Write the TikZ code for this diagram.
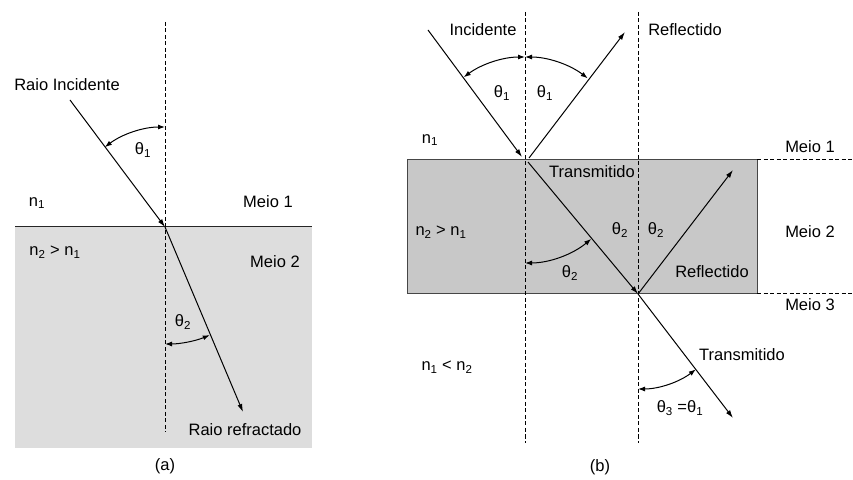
\documentclass[tikz,border=0pt]{standalone}
\usepackage{fontspec}
\setmainfont{Liberation Sans}
\usetikzlibrary{arrows.meta}
\begin{document}
\begin{tikzpicture}[x=1pt,y=1pt,
  ray/.style={line width=1pt,-{Latex[length=8pt,width=5pt]}},
  normal/.style={line width=1pt,dash pattern=on 4pt off 2.5pt},
  angarc/.style={line width=1pt,{Latex[length=7pt,width=5pt]}-{Latex[length=7pt,width=5pt]}},
  lbl/.style={font=\fontsize{16.5}{19}\selectfont,inner sep=0pt}]
\useasboundingbox (0,0) rectangle (853,479);
\definecolor{graya}{RGB}{221,221,221}
\definecolor{grayb}{RGB}{200,200,200}
\definecolor{edgeb}{RGB}{70,70,70}
% ---------- panel (a)
\coordinate (Oa) at (165,252);
\fill[graya] (15,31) rectangle (312,252);
\draw[line width=1pt,black!85] (15,252) -- (312,252);
\coordinate (Na1) at (165,457);
\coordinate (Na2) at (165,47);
\draw[normal] (Na1) -- (Na2);
\coordinate (Ia) at (70,379);
\draw[ray] (Ia) -- (Oa);
\coordinate (Ra) at (243,67);
\draw[ray] (Oa) -- (Ra);
\draw[angarc] ([shift={(90:100)}]Oa) arc[start angle=90,end angle=127,radius=100];
\draw[angarc] ([shift={(270:117)}]Oa) arc[start angle=270,end angle=292.5,radius=117];
\node[lbl] (ta1) at (143,329) {θ\textsubscript{1}};
\node[lbl] (ta2) at (183,157) {θ\textsubscript{2}};
\node[lbl] (tri) at (67,394) {Raio Incidente};
\node[lbl] (tan1) at (37,276) {n\textsubscript{1}};
\node[lbl] (tam1) at (268,277) {Meio 1};
\node[lbl] (tan2) at (55,227) {n\textsubscript{2} > n\textsubscript{1}};
\node[lbl] (tam2) at (275,217) {Meio 2};
\node[lbl] (trr) at (245,49) {Raio refractado};
\node[lbl] (tla) at (165,13) {(a)};
% ---------- panel (b)
\fill[grayb] (407,185) rectangle (757,319);
\draw[line width=1pt,edgeb] (407,185) rectangle (757,319);
\draw[normal] (757,319) -- (853,319);
\draw[normal] (757,185) -- (853,185);
\coordinate (P1) at (525,319);
\coordinate (P2) at (638,185);
\draw[normal] (525,467) -- (525,36);
\draw[normal] (638,467) -- (638,36);
\coordinate (Ib) at (428,449);
\coordinate (Ib2) at (522,322);
\draw[ray] (Ib) -- (Ib2);
\coordinate (Rb1) at (529,321);
\coordinate (Rb2) at (625,447);
\draw[ray] (Rb1) -- (Rb2);
\coordinate (Tb1) at (528,317);
\draw[ray] (Tb1) -- (P2);
\coordinate (Rb3) at (733,309);
\draw[ray] (P2) -- (Rb3);
\coordinate (Tb2) at (733,61);
\draw[ray] (P2) -- (Tb2);
\draw[angarc] ([shift={(90:103)}]P1) arc[start angle=90,end angle=126.5,radius=103];
\draw[angarc] ([shift={(90:103)}]P1) arc[start angle=90,end angle=52.5,radius=103];
\draw[angarc] ([shift={(270:103)}]P1) arc[start angle=270,end angle=310,radius=103];
\draw[angarc] ([shift={(270:95)}]P2) arc[start angle=270,end angle=307.5,radius=95];
\node[lbl] (tb1) at (502,386) {θ\textsubscript{1}};
\node[lbl] (tb2) at (545,386) {θ\textsubscript{1}};
\node[lbl] (tb3) at (570,206) {θ\textsubscript{2}};
\node[lbl] (tb4) at (620,249) {θ\textsubscript{2}};
\node[lbl] (tb5) at (656,249) {θ\textsubscript{2}};
\node[lbl] (tb6) at (680,71) {θ\textsubscript{3} =θ\textsubscript{1}};
\node[lbl] (tbi) at (483,449) {Incidente};
\node[lbl] (tbr) at (685,449) {Reflectido};
\node[lbl] (tbn1) at (430,339) {n\textsubscript{1}};
\node[lbl] (tbt) at (592,307) {Transmitido};
\node[lbl] (tbn2) at (441,247) {n\textsubscript{2} > n\textsubscript{1}};
\node[lbl] (tbr2) at (712,207) {Reflectido};
\node[lbl] (tbm1) at (810,332) {Meio 1};
\node[lbl] (tbm2) at (810,247) {Meio 2};
\node[lbl] (tbm3) at (810,174) {Meio 3};
\node[lbl] (tbn3) at (447,112) {n\textsubscript{1} < n\textsubscript{2}};
\node[lbl] (tbt2) at (742,124) {Transmitido};
\node[lbl] (tlb) at (600,12) {(b)};
\end{tikzpicture}
\end{document}
